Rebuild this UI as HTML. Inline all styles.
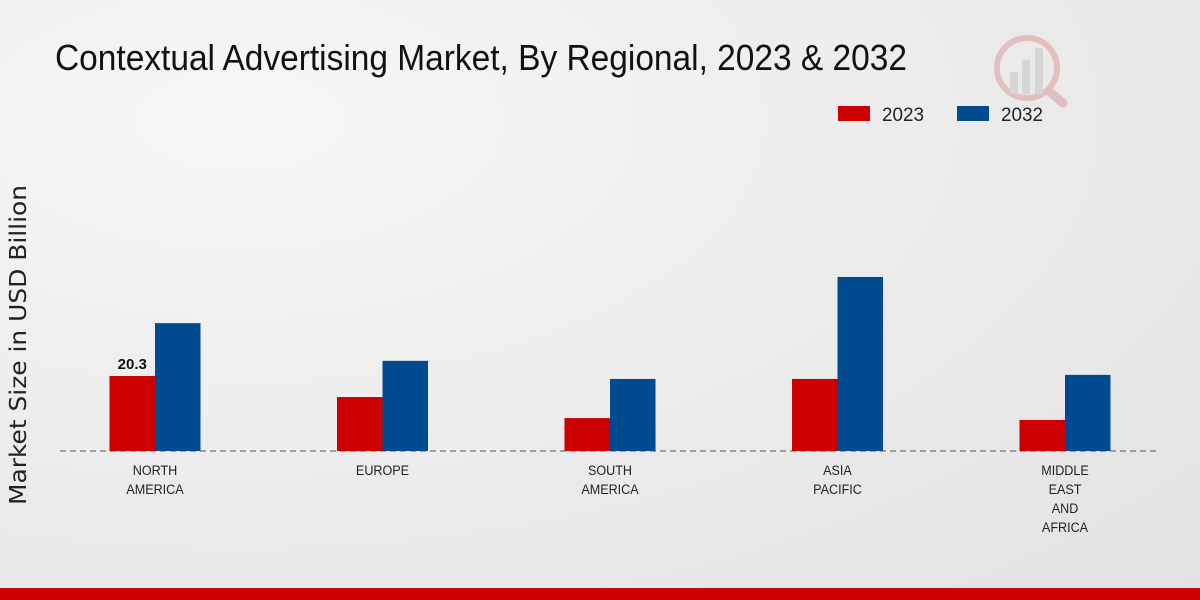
<!DOCTYPE html>
<html><head><meta charset="utf-8"><style>
body{margin:0;width:1200px;height:600px;overflow:hidden;font-family:"Liberation Sans",sans-serif}
#bg{position:absolute;left:0;top:0;width:1200px;height:600px;background:radial-gradient(ellipse at 20% 20%,#f7f7f7 0%,#ebebeb 55%,#e2e2e2 100%)}
</style></head><body>
<div id="bg"></div>
<svg id="chart" width="1200" height="600" style="position:absolute;left:0;top:0">
<text x="55" y="70" font-size="36" fill="#111" textLength="852" lengthAdjust="spacingAndGlyphs">Contextual Advertising Market, By Regional, 2023 &amp; 2032</text>
<text transform="translate(26,345) rotate(-90)" text-anchor="middle" font-size="23" fill="#222" textLength="320" lengthAdjust="spacingAndGlyphs" font-family="DejaVu Sans, sans-serif">Market Size in USD Billion</text>
<g>
<rect x="838" y="106" width="32" height="15" fill="#cc0000"/>
<text x="882" y="121" font-size="19" fill="#222" textLength="42" lengthAdjust="spacingAndGlyphs">2023</text>
<rect x="957" y="106" width="32" height="15" fill="#004a8f"/>
<text x="1001" y="121" font-size="19" fill="#222" textLength="42" lengthAdjust="spacingAndGlyphs">2032</text>
</g>
<g opacity="0.25">
<circle cx="1027" cy="68" r="30" fill="none" stroke="#c44" stroke-width="6"/>
<line x1="1050" y1="92" x2="1063" y2="103" stroke="#c44" stroke-width="9" stroke-linecap="round"/>
<rect x="1010" y="72" width="8" height="22" fill="#999"/><rect x="1022" y="60" width="8" height="34" fill="#999"/><rect x="1035" y="48" width="8" height="46" fill="#999"/>
</g>
<line x1="60" y1="451" x2="1160" y2="451" stroke="#555" stroke-width="1" stroke-dasharray="6,4"/>
<g id="bars"></g>
<rect x="0" y="588" width="1200" height="12" fill="#cc0000"/>
</svg>
<script>
const categories=[["NORTH","AMERICA"],["EUROPE"],["SOUTH","AMERICA"],["ASIA","PACIFIC"],["MIDDLE","EAST","AND","AFRICA"]];
const values2023=[20.3,14.6,8.9,19.5,8.4];
const values2032=[34.6,24.4,19.5,47.1,20.6];
const labelShown=["20.3",null,null,null,null];
const ns="http://www.w3.org/2000/svg";
const g=document.getElementById('bars');
const base=451, scale=3.695;
const xCenter=i=>155+i*227.5;
const yH=v=>v*scale;
function rect(x,v,fill,name){
  const r=document.createElementNS(ns,'rect');
  r.setAttribute('x',x);r.setAttribute('y',base-yH(v));r.setAttribute('width',45.5);r.setAttribute('height',yH(v));r.setAttribute('fill',fill);
  
  
  g.appendChild(r);
}
categories.forEach((c,i)=>{
  const cx=xCenter(i);
  rect(cx-45.5,values2023[i],'#cc0000','bar-2023-'+i);
  rect(cx,values2032[i],'#004a8f','bar-2032-'+i);
  if(labelShown[i]){
    const t=document.createElementNS(ns,'text');
    t.setAttribute('x',cx-22.75);t.setAttribute('y',base-yH(values2023[i])-7);
    t.setAttribute('text-anchor','middle');t.setAttribute('font-size','15');t.setAttribute('font-weight','bold');t.setAttribute('fill','#111');
    t.textContent=labelShown[i];
    
    
    g.appendChild(t);
  }
  c.forEach((line,j)=>{
    const t=document.createElementNS(ns,'text');
    t.setAttribute('x',cx);t.setAttribute('y',475+j*19);
    t.setAttribute('text-anchor','middle');t.setAttribute('font-size','14');t.setAttribute('fill','#222');
    t.setAttribute('transform','translate('+cx+',0) scale(0.9,1) translate('+(-cx)+',0)');
    t.textContent=line;
    
    
    g.appendChild(t);
  });
});
</script>
</body></html>
